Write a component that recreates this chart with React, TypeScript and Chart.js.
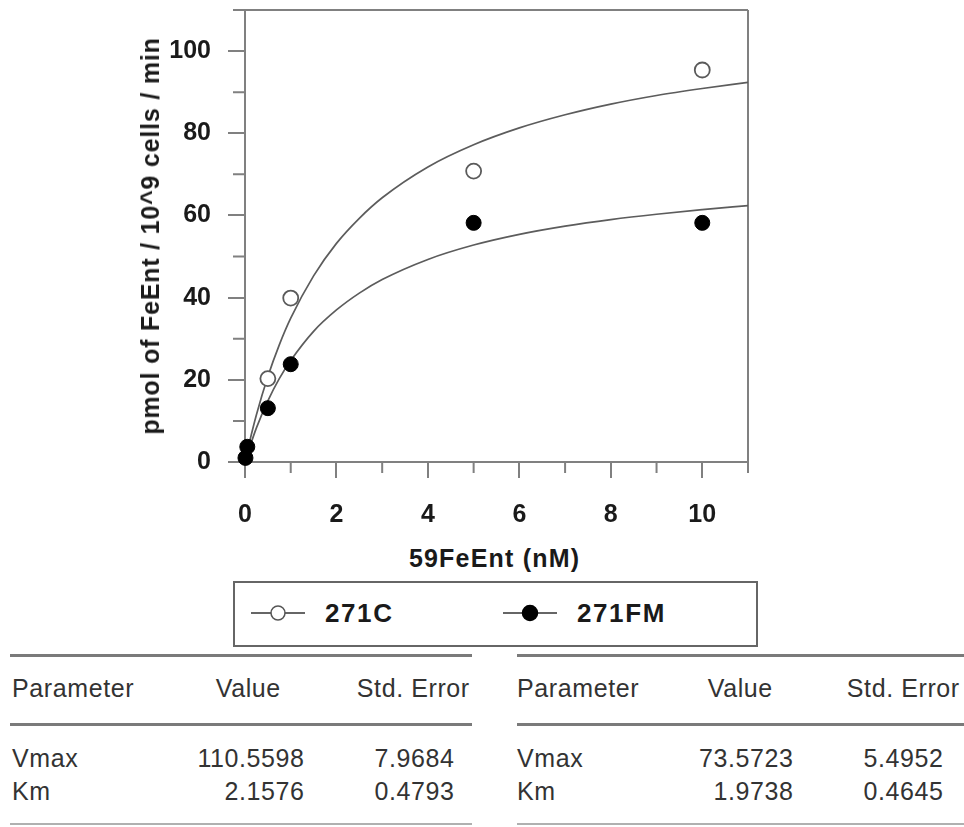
import React, { useEffect, useRef } from 'react';
import { Chart, registerables } from 'chart.js';

Chart.register(...registerables);

// ---------- data ----------
const X_271C = [0.5, 1, 5, 10];
const Y_271C = [20.3, 39.9, 70.8, 95.4];

const X_271FM = [0.01, 0.05, 0.5, 1, 5, 10];
const Y_271FM = [1.0, 3.7, 13.1, 23.8, 58.2, 58.2];

// fitted curves
const X_FIT = [0, 0.1, 0.25, 0.5, 0.75, 1, 1.5, 2, 2.5, 3, 4, 5, 6, 7, 8, 9, 10, 11];
const Y_FIT_271C = [0, 4.9, 11.5, 20.8, 28.5, 35.0, 45.3, 53.2, 59.3, 64.3, 71.8, 77.2, 81.3, 84.5, 87.1, 89.2, 90.9, 92.4];
const Y_FIT_271FM = [0, 3.5, 8.3, 14.9, 20.3, 24.7, 31.8, 37.0, 41.1, 44.4, 49.3, 52.8, 55.4, 57.4, 59.0, 60.3, 61.4, 62.4];

const X_MAJOR_TICKS = [0, 2, 4, 6, 8, 10];
const X_MINOR_TICKS = [1, 3, 5, 7, 9, 11];
const Y_MAJOR_TICKS = [0, 20, 40, 60, 80, 100];
const Y_MINOR_TICKS = [10, 30, 50, 70, 90, 110];

const SERIES_NAMES = ['271C', '271FM'];
const X_TITLE = '59FeEnt (nM)';
const Y_TITLE = 'pmol of FeEnt / 10^9 cells / min';

const TABLE_HEADERS = ['Parameter', 'Value', 'Std. Error'];
const PARAM_NAMES = ['Vmax', 'Km'];
const VALUES_271C = ['110.5598', '2.1576'];
const ERRORS_271C = ['7.9684', '0.4793'];
const VALUES_271FM = ['73.5723', '1.9738'];
const ERRORS_271FM = ['5.4952', '0.4645'];

// ---------- styles ----------
const FONT = '"Liberation Sans", Arial, Helvetica, sans-serif';
const AXIS_COLOR = '#808080';
const LINE_COLOR = '#5c5c5c';
const TEXT_DARK = '#1a1a1a';

const frameAndMinorTicks = {
  id: 'frameAndMinorTicks',
  beforeDatasetsDraw(chart: any) {
    const { ctx, chartArea } = chart;
    const xs = chart.scales.x;
    const ys = chart.scales.y;
    const { left, right, top, bottom } = chartArea;
    ctx.save();
    ctx.strokeStyle = AXIS_COLOR;
    ctx.lineWidth = 2;
    ctx.beginPath();
    ctx.moveTo(left, top);
    ctx.lineTo(right, top);
    ctx.moveTo(right, top);
    ctx.lineTo(right, bottom);
    for (const v of X_MINOR_TICKS) {
      const px = xs.getPixelForValue(v);
      ctx.moveTo(px, bottom);
      ctx.lineTo(px, bottom + 11);
    }
    for (const v of Y_MINOR_TICKS) {
      const py = ys.getPixelForValue(v);
      ctx.moveTo(left - 12, py);
      ctx.lineTo(left, py);
    }
    ctx.stroke();
    ctx.restore();
  },
};

function Txt(props: { x: number; y: number; align?: 'left' | 'right' | 'center'; size: number; bold?: boolean; spacing?: number; color?: string; children: React.ReactNode }) {
  const { x, y, align = 'left', size, bold, spacing = 0, color = '#333', children } = props;
  const lh = Math.round(size * 1.3);
  const tx = align === 'left' ? '0' : align === 'right' ? '-100%' : '-50%';
  return (
    <div
      style={{
        position: 'absolute',
        left: x + (align === 'right' ? spacing : align === 'center' ? spacing / 2 : 0),
        top: y - lh / 2,
        height: lh,
        lineHeight: lh + 'px',
        fontSize: size,
        fontWeight: bold ? 'bold' : 'normal',
        letterSpacing: spacing + 'px',
        color,
        whiteSpace: 'nowrap',
        transform: `translateX(${tx})`,
        fontFamily: FONT,
      }}
    >
      {children}
    </div>
  );
}

function HLine(props: { x1: number; x2: number; y: number; h?: number; color?: string }) {
  const { x1, x2, y, h = 3, color = '#7a7a7a' } = props;
  return <div style={{ position: 'absolute', left: x1, top: y - h / 2, width: x2 - x1, height: h, background: color }} />;
}

function LegendMarker(props: { x: number; y: number; filled: boolean }) {
  const { x, y, filled } = props;
  return (
    <svg width={56} height={20} style={{ position: 'absolute', left: x, top: y - 10 }}>
      <line x1={0} y1={10} x2={54} y2={10} stroke="#333" strokeWidth={1.6} />
      <circle cx={27} cy={10} r={filled ? 7.5 : 7} fill={filled ? '#000' : '#fff'} stroke={filled ? '#000' : '#555'} strokeWidth={1.5} />
    </svg>
  );
}

function ParamTable(props: { x0: number; x1: number; nameX: number; valueHeadC: number; valueRight: number; errHeadC: number; errRight: number; values: string[]; errors: string[] }) {
  const { x0, x1, nameX, valueHeadC, valueRight, errHeadC, errRight, values, errors } = props;
  const rowsY = [758, 791];
  const fs = 25;
  const sp = 0.6;
  return (
    <>
      <HLine x1={x0} x2={x1} y={655} />
      <Txt x={nameX} y={688} size={fs} spacing={sp}>{TABLE_HEADERS[0]}</Txt>
      <Txt x={valueHeadC} y={688} size={fs} spacing={sp} align="center">{TABLE_HEADERS[1]}</Txt>
      <Txt x={errHeadC} y={688} size={fs} spacing={sp} align="center">{TABLE_HEADERS[2]}</Txt>
      <HLine x1={x0} x2={x1} y={724} />
      {PARAM_NAMES.map((p, i) => (
        <React.Fragment key={p}>
          <Txt x={nameX} y={rowsY[i]} size={fs} spacing={sp}>{p}</Txt>
          <Txt x={valueRight} y={rowsY[i]} size={fs} spacing={sp} align="right">{values[i]}</Txt>
          <Txt x={errRight} y={rowsY[i]} size={fs} spacing={sp} align="right">{errors[i]}</Txt>
        </React.Fragment>
      ))}
      <HLine x1={x0} x2={x1} y={824} h={2} color="#b0b0b0" />
    </>
  );
}

export default function App() {
  const canvasRef = useRef<HTMLCanvasElement>(null);

  useEffect(() => {
    if (!canvasRef.current) return;
    const tickFont = { family: FONT, size: 25, weight: 'bold' as const };
    const chart = new Chart(canvasRef.current, {
      type: 'scatter',
      data: {
        datasets: [
          {
            label: SERIES_NAMES[1],
            data: X_271FM.map((x, i) => ({ x, y: Y_271FM[i] })),
            showLine: false,
            pointRadius: 7.5,
            pointBackgroundColor: '#000',
            pointBorderColor: '#000',
            pointBorderWidth: 1,
            clip: false,
          },
          {
            label: SERIES_NAMES[0],
            data: X_271C.map((x, i) => ({ x, y: Y_271C[i] })),
            showLine: false,
            pointRadius: 7.5,
            pointBackgroundColor: '#fff',
            pointBorderColor: '#5a5a5a',
            pointBorderWidth: 1.8,
            clip: false,
          },
          {
            label: SERIES_NAMES[0] + ' fit',
            data: X_FIT.map((x, i) => ({ x, y: Y_FIT_271C[i] })),
            showLine: true,
            pointRadius: 0,
            borderColor: LINE_COLOR,
            borderWidth: 1.7,
            cubicInterpolationMode: 'monotone',
            fill: false,
          },
          {
            label: SERIES_NAMES[1] + ' fit',
            data: X_FIT.map((x, i) => ({ x, y: Y_FIT_271FM[i] })),
            showLine: true,
            pointRadius: 0,
            borderColor: LINE_COLOR,
            borderWidth: 1.7,
            cubicInterpolationMode: 'monotone',
            fill: false,
          },
        ] as any,
      },
      options: {
        responsive: false,
        animation: false,
        devicePixelRatio: 1,
        events: [],
        layout: { padding: { left: 145, right: 216, top: 10, bottom: 0 } },
        plugins: { legend: { display: false }, tooltip: { enabled: false } },
        scales: {
          x: {
            type: 'linear',
            min: 0,
            max: 11,
            afterBuildTicks: (axis: any) => {
              axis.ticks = X_MAJOR_TICKS.map((v) => ({ value: v }));
            },
            afterFit: (axis: any) => {
              axis.height = 68;
              axis.paddingLeft = 0;
              axis.paddingRight = 0;
            },
            ticks: { font: tickFont, color: TEXT_DARK, padding: 22, maxRotation: 0, autoSkip: false },
            grid: { display: true, drawOnChartArea: false, drawTicks: true, tickLength: 16, color: AXIS_COLOR, lineWidth: 2 },
            border: { display: true, color: AXIS_COLOR, width: 2 },
          },
          y: {
            type: 'linear',
            min: 0,
            max: 110,
            afterBuildTicks: (axis: any) => {
              axis.ticks = Y_MAJOR_TICKS.map((v) => ({ value: v }));
            },
            afterFit: (axis: any) => {
              axis.width = 100;
              axis.paddingTop = 0;
              axis.paddingBottom = 0;
            },
            ticks: { font: tickFont, color: TEXT_DARK, padding: 17, autoSkip: false },
            grid: { display: true, drawOnChartArea: false, drawTicks: true, tickLength: 17, color: AXIS_COLOR, lineWidth: 2 },
            border: { display: true, color: AXIS_COLOR, width: 2 },
          },
        },
      } as any,
      plugins: [frameAndMinorTicks],
    });
    return () => chart.destroy();
  }, []);

  return (
    <div style={{ position: 'absolute', left: 0, top: 0, width: 964, height: 827, background: '#fff', overflow: 'hidden', fontFamily: FONT }}>
      <canvas ref={canvasRef} width={964} height={530} style={{ position: 'absolute', left: 0, top: 0, width: 964, height: 530 }} />

      {/* axis titles */}
      <Txt x={494} y={558} size={25} bold spacing={1.2} align="center" color={TEXT_DARK}>{X_TITLE}</Txt>
      <div
        style={{
          position: 'absolute',
          left: 150,
          top: 236,
          transform: 'translate(-50%, -50%) rotate(-90deg)',
          fontSize: 25,
          fontWeight: 'bold',
          letterSpacing: '0.8px',
          whiteSpace: 'nowrap',
          color: TEXT_DARK,
          lineHeight: '30px',
          fontFamily: FONT,
        }}
      >
        {Y_TITLE}
      </div>

      {/* legend */}
      <div style={{ position: 'absolute', left: 233, top: 581, width: 525, height: 66, border: '2px solid #666', boxSizing: 'border-box' }} />
      <LegendMarker x={251} y={613} filled={false} />
      <Txt x={325} y={613} size={26} bold spacing={1.6} color={TEXT_DARK}>{SERIES_NAMES[0]}</Txt>
      <LegendMarker x={503} y={613} filled={true} />
      <Txt x={577} y={613} size={26} bold spacing={1.6} color={TEXT_DARK}>{SERIES_NAMES[1]}</Txt>

      {/* parameter tables */}
      <ParamTable x0={10} x1={472} nameX={12} valueHeadC={248} valueRight={304} errHeadC={413} errRight={454} values={VALUES_271C} errors={ERRORS_271C} />
      <ParamTable x0={517} x1={964} nameX={517} valueHeadC={740} valueRight={793} errHeadC={903} errRight={943} values={VALUES_271FM} errors={ERRORS_271FM} />
    </div>
  );
}
